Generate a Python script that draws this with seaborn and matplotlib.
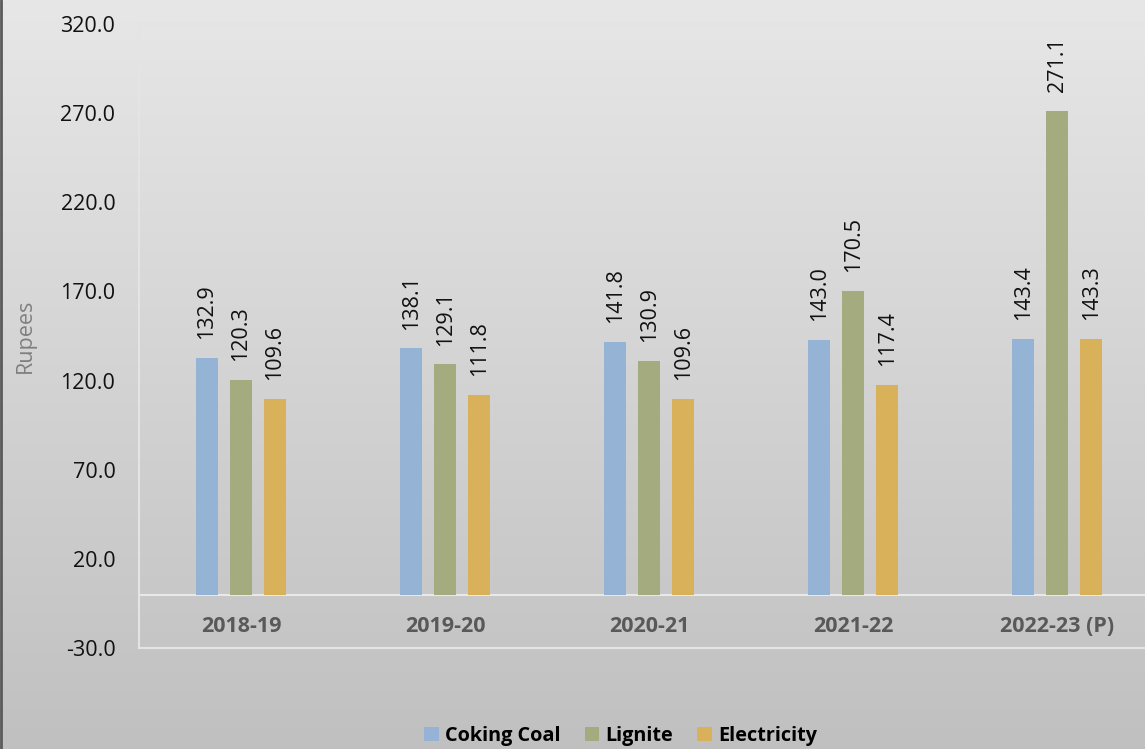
import numpy as np
import pandas as pd
import matplotlib.pyplot as plt
from matplotlib.colors import LinearSegmentedColormap
from matplotlib.lines import Line2D
from matplotlib.patches import Patch
import seaborn as sns

# Data
years = ["2018-19", "2019-20", "2020-21", "2021-22", "2022-23 (P)"]
coking_coal = [132.9, 138.1, 141.8, 143.0, 143.4]
lignite = [120.3, 129.1, 130.9, 170.5, 271.1]
electricity = [109.6, 111.8, 109.6, 117.4, 143.3]
series_names = ["Coking Coal", "Lignite", "Electricity"]
colors = ["#95b4d5", "#a4ab7e", "#dab15b"]
y_ticks = [-30, 20, 70, 120, 170, 220, 270, 320]

df = pd.DataFrame({
    "year": years * 3,
    "series": [s for s in series_names for _ in years],
    "value": coking_coal + lignite + electricity,
})

sns.set_theme(style="white")
plt.rcParams["font.family"] = ["Open Sans", "DejaVu Sans"]

fig = plt.figure(figsize=(11.45, 7.49), dpi=100)

# gradient background
bg = fig.add_axes([0, 0, 1, 1], zorder=-10)
grad = np.linspace(0, 1, 256).reshape(-1, 1)
bg.imshow(grad, aspect="auto", cmap=LinearSegmentedColormap.from_list("bg", ["#e7e7e7", "#c0c0c0"]),
          extent=[0, 1, 0, 1], origin="upper")
bg.axis("off")
fig.add_artist(Line2D([0.001, 0.001], [0, 1], color="#5a5a5a", lw=2, transform=fig.transFigure))

ax = fig.add_axes([139 / 1145, 101 / 749, 1 - 139 / 1145, 624 / 749])
ax.patch.set_alpha(0)

sns.barplot(data=df, x="year", y="value", hue="series", palette=colors,
            width=0.5, gap=0.35, ax=ax, legend=False, saturation=1, linewidth=0)

ax.set_ylim(-30, 320)
ax.set_xlim(-0.5, 4.43)
ax.set_yticks(y_ticks)
ax.set_yticklabels([f"{v:.1f}" for v in y_ticks], fontsize=15.5, color="#111111")
ax.tick_params(axis="y", length=0, pad=17)
ax.set_xticks([])
ax.set_xlabel("")
ax.set_ylabel("Rupees", fontsize=15.5, color="#7f7f7f")
ax.yaxis.set_label_coords(-0.103, 0.5)

for side in ["top", "left", "bottom"]:
    ax.spines[side].set_color("#e4e4e4")
    ax.spines[side].set_linewidth(1.5)
ax.spines["right"].set_visible(False)
ax.axhline(0, color="#e8e8e8", lw=1.5, zorder=0.5)

# value labels
for container in ax.containers:
    for bar in container:
        h = bar.get_height()
        ax.annotate(f"{h:.1f}", (bar.get_x() + bar.get_width() / 2, h),
                    xytext=(0, 13.5), textcoords="offset points",
                    rotation=90, ha="center", va="bottom", fontsize=15.5, color="#111111")

# category labels between zero line and bottom of plot
for i, y in enumerate(years):
    ax.text(i, -18, y, ha="center", va="center", fontsize=15.5,
            fontweight="bold", color="#595959")

handles = [Patch(facecolor=c, edgecolor="none") for c in colors]
leg = fig.legend(handles, series_names, loc="lower center", bbox_to_anchor=(0.542, -0.02),
                 ncol=3, frameon=False, handlelength=0.75, handleheight=0.75,
                 handletextpad=0.3, columnspacing=1.2,
                 prop={"size": 14.3, "weight": "bold"})
for t in leg.get_texts():
    t.set_color("#000000")

fig.savefig("out.png", dpi=100)
